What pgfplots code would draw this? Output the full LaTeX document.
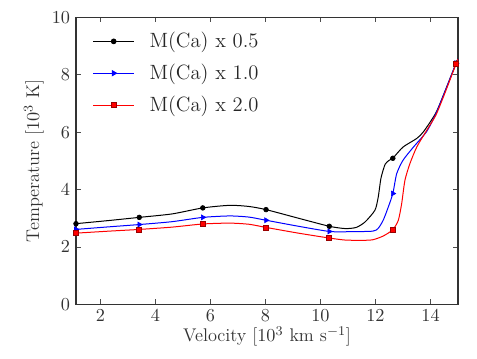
\documentclass[border=0pt]{standalone}
\usepackage{pgfplots}
\pgfplotsset{compat=1.18}

\pgfplotstableread{
x y
1.1 2.81
2.3 2.92
3.41 3.03
4.6 3.15
5.72 3.36
6.7 3.45
7.4 3.41
8.02 3.30
9.2 3.00
10.32 2.72
10.9 2.64
11.3 2.68
11.62 2.87
11.98 3.28
12.1 3.74
12.2 4.40
12.35 4.88
12.5 5.02
12.63 5.09
13.0 5.48
13.5 5.78
13.75 6.02
14.2 6.68
14.54 7.46
14.93 8.40
15.0 8.55
}\blackline

\pgfplotstableread{
x y
1.1 2.61
2.3 2.70
3.41 2.78
4.6 2.88
5.72 3.03
6.7 3.08
7.4 3.04
8.02 2.93
9.2 2.72
10.32 2.54
11.0 2.53
11.9 2.55
12.1 2.65
12.28 2.93
12.45 3.35
12.63 3.86
12.77 4.55
13.0 5.02
13.38 5.48
13.86 6.02
14.2 6.65
14.54 7.45
14.93 8.40
15.0 8.55
}\blueline

\pgfplotstableread{
x y
1.1 2.48
2.3 2.55
3.41 2.61
4.6 2.69
5.72 2.80
6.7 2.83
7.4 2.79
8.02 2.68
9.2 2.48
10.32 2.31
10.9 2.24
11.5 2.23
11.9 2.25
12.28 2.38
12.63 2.60
12.83 2.93
12.95 3.50
13.07 4.32
13.25 4.90
13.5 5.48
13.86 6.06
14.2 6.60
14.54 7.40
14.93 8.38
15.0 8.55
}\redline

\begin{document}
\begin{tikzpicture}
\begin{axis}[
  scale only axis,
  width=229.2pt, height=172.2pt,
  xmin=1.11, xmax=15, ymin=0, ymax=10,
  xtick={2,4,...,14}, ytick={0,2,...,10},
  tick align=inside, major tick length=3pt,
  tick style={black!70, line width=0.5pt},
  axis line style={black!80, line width=0.7pt},
  every tick label/.append style={font=\fontsize{11}{13}\selectfont, text=black!80},
  label style={font=\fontsize{11}{13}\selectfont, text=black!80},
  xlabel={Velocity [$10^3$ km s$^{-1}$]},
  ylabel={Temperature [$10^3$ K]},
  xlabel style={yshift=4pt},
  ylabel style={yshift=-2pt},
  legend cell align=left,
  legend style={draw=none, fill=none, at={(0.03,0.972)}, anchor=north west,
    font=\fontsize{12.4}{14}\selectfont, row sep=4.3pt, text=black!85,
    /tikz/every odd column/.append style={column sep=7pt}},
  legend image code/.code={\draw[mark repeat=2,mark phase=2,#1] plot coordinates {(0cm,0cm)(0.43cm,0cm)(0.86cm,0cm)};},
]
\addlegendimage{black, line width=0.6pt, mark=*, mark size=1.4pt}
\addlegendentry{M(Ca) x 0.5}
\addlegendimage{blue, line width=0.6pt, mark=triangle*, mark size=1.7pt, mark options={rotate=-90}}
\addlegendentry{M(Ca) x 1.0}
\addlegendimage{red, line width=0.6pt, mark=square*, mark size=1.5pt, mark options={draw=red!60!black}}
\addlegendentry{M(Ca) x 2.0}

\addplot[forget plot, black, line width=0.6pt, smooth, tension=0.4] table {\blackline};
\addplot[forget plot, blue, line width=0.6pt, smooth, tension=0.4] table {\blueline};
\addplot[forget plot, red, line width=0.6pt, smooth, tension=0.4] table {\redline};

\addplot[forget plot, only marks, black, mark=*, mark size=1.4pt] coordinates {
(1.11,2.81) (3.41,3.03) (5.72,3.36) (8.02,3.30) (10.32,2.72) (12.63,5.09) (14.93,8.40)};
\addplot[forget plot, only marks, blue, mark=triangle*, mark size=1.7pt, mark options={rotate=-90}] coordinates {
(1.11,2.61) (3.41,2.78) (5.72,3.03) (8.02,2.93) (10.32,2.54) (12.63,3.86) (14.93,8.40)};
\addplot[forget plot, only marks, red, mark=square*, mark size=1.5pt, mark options={draw=red!60!black}] coordinates {
(1.11,2.48) (3.41,2.61) (5.72,2.80) (8.02,2.68) (10.32,2.31) (12.63,2.60) (14.93,8.38)};
\end{axis}
\path ([xshift=-45.6pt,yshift=-32.4pt]current axis.south west) rectangle ([xshift=11.4pt,yshift=10.4pt]current axis.north east);
\end{tikzpicture}
\end{document}
